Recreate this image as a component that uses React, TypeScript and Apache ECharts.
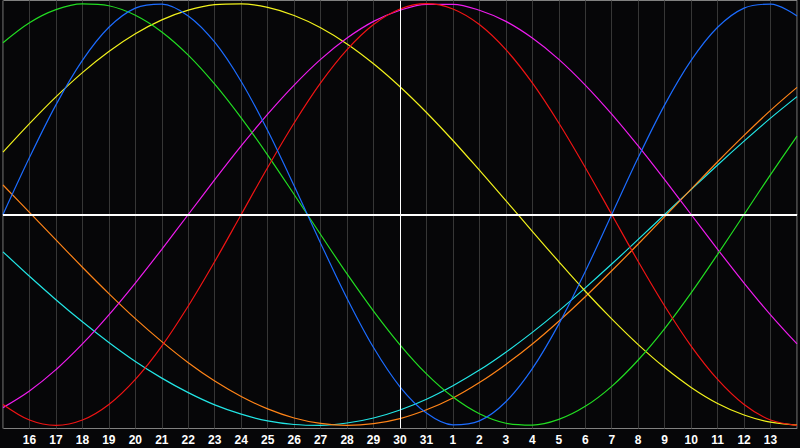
import React, { useEffect, useRef } from "react";
import * as echarts from "echarts";

const days = [
  "15", "16", "17", "18", "19", "20", "21", "22", "23", "24", "25", "26", "27", "28", "29", "30", "31",
  "1", "2", "3", "4", "5", "6", "7", "8", "9", "10", "11", "12", "13", "14",
];

const blue = [0, 0.27, 0.52, 0.731, 0.888, 0.979, 0.998, 0.942, 0.817, 0.631, 0.398, 0.136, -0.136, -0.398, -0.631, -0.817, -0.942, -0.998, -0.979, -0.888, -0.731, -0.52, -0.27, 0, 0.27, 0.52, 0.731, 0.888, 0.979, 0.998, 0.942];
const red = [-0.901, -0.975, -1, -0.975, -0.901, -0.782, -0.624, -0.434, -0.223, 0, 0.223, 0.434, 0.624, 0.782, 0.901, 0.975, 1, 0.975, 0.901, 0.782, 0.624, 0.434, 0.223, 0, -0.223, -0.434, -0.624, -0.782, -0.901, -0.975, -1];
const green = [0.815, 0.91, 0.972, 0.999, 0.99, 0.945, 0.866, 0.756, 0.618, 0.458, 0.282, 0.095, -0.095, -0.282, -0.458, -0.618, -0.756, -0.866, -0.945, -0.99, -0.999, -0.972, -0.91, -0.815, -0.69, -0.541, -0.372, -0.189, 0, 0.189, 0.372];
const yellow = [0.296, 0.431, 0.558, 0.673, 0.773, 0.857, 0.923, 0.969, 0.995, 0.999, 0.982, 0.944, 0.886, 0.809, 0.715, 0.606, 0.484, 0.351, 0.21, 0.066, -0.08, -0.224, -0.364, -0.495, -0.617, -0.726, -0.82, -0.896, -0.951, -0.985, -0.999];
const magenta = [-0.916, -0.837, -0.736, -0.614, -0.476, -0.325, -0.165, 0, 0.165, 0.325, 0.476, 0.614, 0.736, 0.837, 0.916, 0.969, 0.997, 0.997, 0.969, 0.916, 0.837, 0.736, 0.614, 0.476, 0.325, 0.165, 0, -0.165, -0.325, -0.476, -0.614];
const orange = [0.14, 0.01, -0.12, -0.25, -0.375, -0.494, -0.603, -0.703, -0.79, -0.863, -0.922, -0.965, -0.991, -1, -0.992, -0.968, -0.926, -0.87, -0.797, -0.711, -0.614, -0.506, -0.39, -0.267, -0.14, -0.01, 0.12, 0.25, 0.375, 0.494, 0.603];
const cyan = [-0.177, -0.293, -0.404, -0.509, -0.607, -0.697, -0.776, -0.845, -0.903, -0.947, -0.979, -0.996, -1, -0.989, -0.965, -0.927, -0.876, -0.812, -0.738, -0.653, -0.559, -0.457, -0.348, -0.235, -0.118, 0, 0.118, 0.235, 0.348, 0.457, 0.559];

const seriesDefs: [string, number[], string][] = [
  ["Spiritual", cyan, "#22e6e6"],
  ["Awareness", orange, "#ff8418"],
  ["Aesthetic", yellow, "#f2f21c"],
  ["Intuitive", magenta, "#ee1cee"],
  ["Intellectual", green, "#22dd22"],
  ["Emotional", red, "#f01414"],
  ["Physical", blue, "#1c6cff"],
];

export default function App() {
  const ref = useRef<HTMLDivElement>(null);
  useEffect(() => {
    document.body.style.margin = "0";
    const chart = echarts.init(ref.current!, null, { renderer: "svg" });
    const series: any[] = seriesDefs.map(([name, data, color]) => ({
      name,
      type: "line",
      data,
      smooth: 0.34,
      symbol: "none",
      lineStyle: { color, width: 1.2 },
      z: 3,
    }));
    series.push({
      name: "marks",
      type: "line",
      data: [],
      markLine: {
        silent: true,
        symbol: "none",
        label: { show: false },
        data: [
          { yAxis: 0, lineStyle: { color: "#ffffff", width: 2, type: "solid" } },
          { xAxis: 15, lineStyle: { color: "#ffffff", width: 1, type: "solid" } },
        ],
      },
      z: 2,
    });
    chart.setOption({
      animation: false,
      backgroundColor: "#060608",
      grid: {
        left: 0.5,
        right: 0.5,
        top: 0.5,
        bottom: 19.5,
        show: true,
        borderColor: "#808080",
        borderWidth: 1,
        backgroundColor: "transparent",
      },
      xAxis: {
        type: "category",
        data: days,
        boundaryGap: false,
        axisLine: { show: true, lineStyle: { color: "#9a9a9a", width: 1 } },
        axisTick: { show: false },
        splitLine: { show: true, interval: 0, lineStyle: { color: "#363636", width: 1 } },
        axisLabel: {
          interval: 0,
          color: "#ffffff",
          fontFamily: "Liberation Sans",
          fontWeight: "bold",
          fontSize: 12,
          margin: 5,
          formatter: (v: string, i: number) => (i === 0 || i === days.length - 1 ? "" : v),
        },
      },
      yAxis: {
        type: "value",
        min: -1.015,
        max: 1.015,
        show: false,
        splitLine: { show: false },
      },
      series,
    });
    return () => chart.dispose();
  }, []);
  return (
    <div
      ref={ref}
      style={{ position: "fixed", left: 0, top: 0, width: 800, height: 448 }}
    />
  );
}
